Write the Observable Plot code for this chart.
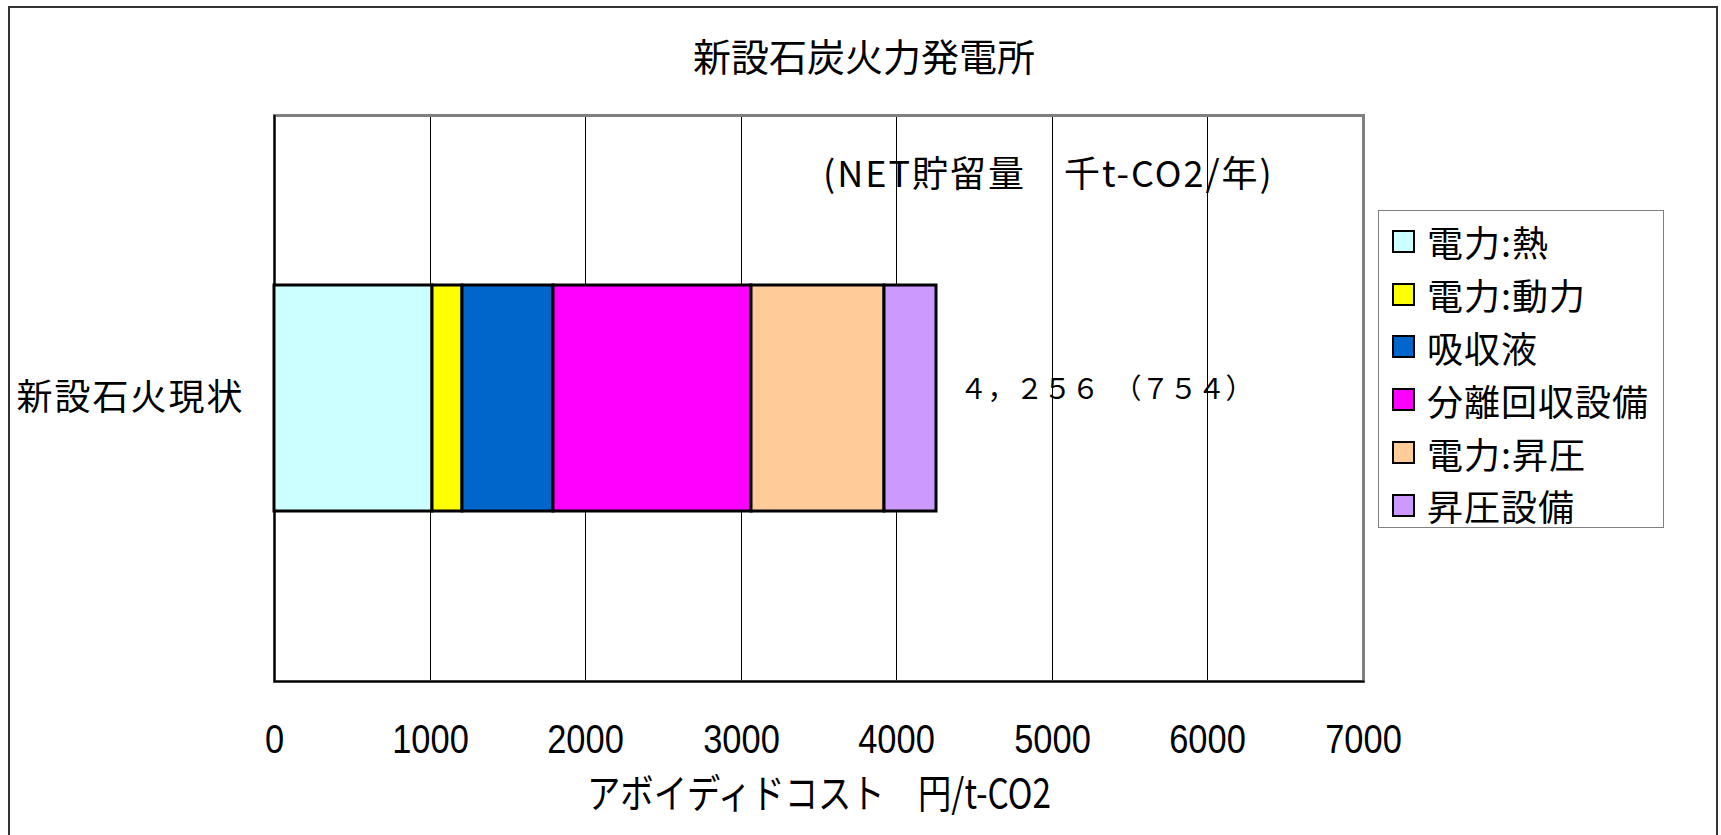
<!DOCTYPE html>
<html>
<head>
<meta charset="utf-8">
<script src="https://cdn.jsdelivr.net/npm/d3@7"></script>
<script src="https://cdn.jsdelivr.net/npm/@observablehq/plot@0.6"></script>
<style>
  body { margin: 0; background: #fff; }
  #chart { position: relative; width: 1721px; height: 835px; overflow: hidden;
           font-family: "Noto Sans CJK JP", sans-serif; color: #000; }
  #border { position: absolute; left: 8px; top: 6px; width: 1710px; height: 900px;
            border: 2px solid #333; box-sizing: border-box; pointer-events: none; }
  #title { position: absolute; left: 0; top: 35px; width: 1728px; text-align: center;
           font-size: 38px; line-height: 40px; }
  #note { position: absolute; left: 823px; top: 151px; font-size: 36px; line-height: 40px;
          letter-spacing: 2px; white-space: pre; }
  #legend { position: absolute; left: 1378px; top: 210px; width: 286px; height: 318px;
            border: 1px solid #808080; box-sizing: border-box; background: #fff; padding-top: 4px; }
  .row { display: flex; align-items: center; height: 52.8px; }
  .sw { width: 19px; height: 19px; border: 2px solid #000; margin-left: 13px; margin-right: 12px; }
  .lab { font-size: 36px; line-height: 40px; white-space: nowrap; letter-spacing: 1px; }
  #plot { position: absolute; left: 0; top: 0; }
</style>
</head>
<body>
<div id="chart">
  <div id="plot"></div>
  <div id="title"></div>
  <div id="note"></div>
  <div id="legend"></div>
  <div id="border"></div>
</div>
<script>
// 新設石炭火力発電所: avoided-cost breakdown (円/t-CO2)
const chartTitle = "新設石炭火力発電所";
const category = "新設石火現状";
const parts = ["電力:熱", "電力:動力", "吸収液", "分離回収設備", "電力:昇圧", "昇圧設備"];
const costs = [1015, 195, 585, 1269, 855, 337];
const colors = ["#CCFFFF", "#FFFF00", "#0066CC", "#FF00FF", "#FFCC99", "#CC99FF"];
const netStorage = 754;            // NET貯留量 千t-CO2/年
const xTicks = [0, 1000, 2000, 3000, 4000, 5000, 6000, 7000];
const xLabel = "アボイディドコスト　円/t-CO2";
const noteText = "(NET貯留量　千t-CO2/年)";

const rows = parts.map((p, i) => ({cat: category, part: p, cost: costs[i]}));
const total = d3.sum(costs);

// full-width digits and punctuation for the total label
const fw = s => s.replace(/[!-~]/g, c => String.fromCharCode(c.charCodeAt(0) + 0xFEE0));
const totalLabel = fw(d3.format(",")(total)) + "　（" + fw(String(netStorage)) + "）";

const numFont = "'Liberation Sans', Arial, sans-serif";
const cjkFont = "'Noto Sans CJK JP', sans-serif";

const plot = Plot.plot({
  width: 1721,
  height: 835,
  marginLeft: 274,
  marginRight: 358,
  marginTop: 115,
  marginBottom: 154,
  style: {fontFamily: cjkFont, background: "transparent"},
  x: {domain: [0, 7000], ticks: xTicks, label: null, round: true},
  y: {domain: [category], padding: 0.4286, label: null},
  color: {domain: parts, range: colors},
  marks: [
    Plot.ruleX(xTicks.slice(1, -1), {stroke: "#000", strokeWidth: 1}),
    Plot.frame({stroke: "#808080", strokeWidth: 3}),
    Plot.ruleX([0], {stroke: "#000", strokeWidth: 2}),
    Plot.frame({anchor: "bottom", stroke: "#000", strokeWidth: 2}),
    Plot.barX(rows, Plot.stackX({x: "cost", y: "cat", fill: "part", stroke: "#000", strokeWidth: 3})),
    Plot.text([total], {x: d => d, y: () => category, text: () => totalLabel,
      textAnchor: "start", dx: 23, dy: -8, fontSize: 28, fontFamily: cjkFont}),
    Plot.axisX(xTicks, {tickSize: 0, tickPadding: 42, fontSize: 41, fontFamily: numFont,
      tickFormat: d3.format("d"), label: null}),
    Plot.axisY({tickSize: 0, tickPadding: 30, fontSize: 36, fontFamily: cjkFont, label: null}),
    Plot.text([xLabel], {frameAnchor: "bottom", dy: 126, fontSize: 40, fontFamily: cjkFont})
  ]
});
document.getElementById("plot").appendChild(plot);

// narrow the tick numerals and the axis title
const root = d3.select(plot);
root.selectAll('g[aria-label="x-axis tick label"] text').each(function() {
  const w = this.getComputedTextLength();
  this.setAttribute("textLength", w * 0.84);
  this.setAttribute("lengthAdjust", "spacingAndGlyphs");
});
root.selectAll("text").filter(function() { return this.textContent === xLabel; })
  .attr("textLength", 464).attr("lengthAdjust", "spacingAndGlyphs");
root.selectAll('g[aria-label="y-axis tick label"]').style("letter-spacing", "2px");

document.getElementById("title").textContent = chartTitle;
document.getElementById("note").textContent = noteText;

const legend = d3.select("#legend");
const item = legend.selectAll(".row").data(parts).join("div").attr("class", "row");
item.append("div").attr("class", "sw").style("background", (d, i) => colors[i]);
item.append("div").attr("class", "lab").text(d => d);
</script>
</body>
</html>
